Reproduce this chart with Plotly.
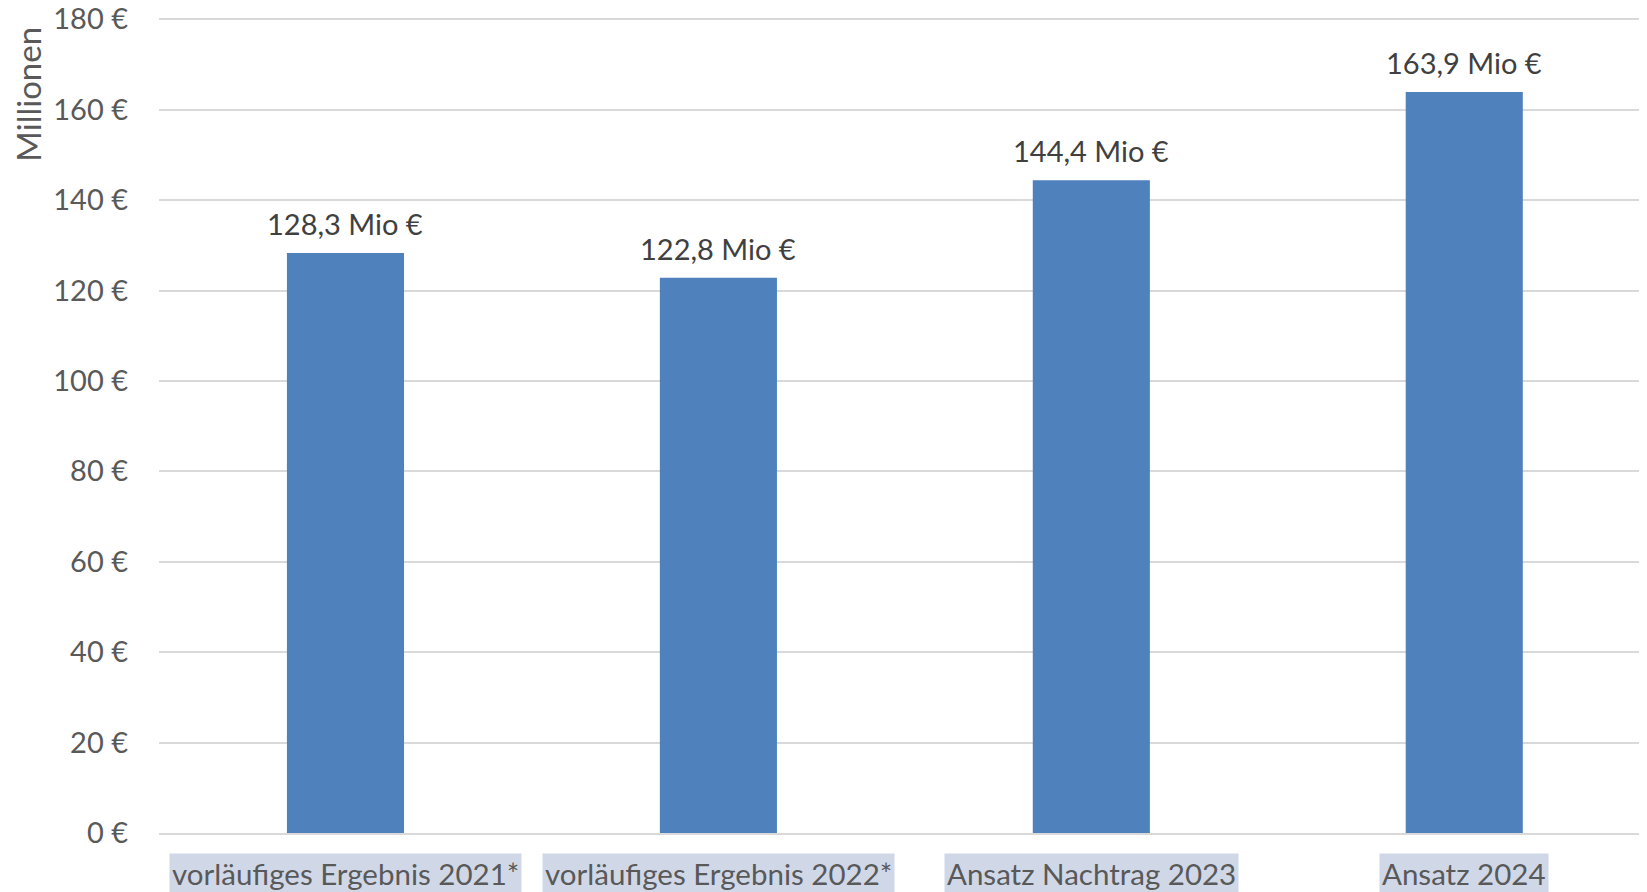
import plotly.graph_objects as go

categories = ["vorläufiges Ergebnis 2021*", "vorläufiges Ergebnis 2022*", "Ansatz Nachtrag 2023", "Ansatz 2024"]
values = [128.3, 122.8, 144.4, 163.9]
y_ticks = [0, 20, 40, 60, 80, 100, 120, 140, 160, 180]
y_tick_text = [f"{v} €" for v in y_ticks]
y_title = "Millionen"

FONT = "Lato"
FS = 29
fig = go.Figure()
fig.add_trace(go.Bar(
    x=categories, y=values,
    marker=dict(color="#4F81BD", line=dict(width=0)),
    cliponaxis=False,
))

for c, v in zip(categories, values):
    label = f"{v:.1f}".replace(".", ",") + " Mio €"
    fig.add_annotation(x=c, xref="x", y=v, yref="y", yanchor="bottom", yshift=10,
                       text=label, showarrow=False,
                       font=dict(family=FONT, size=FS, color="#404040"))

for c in categories:
    fig.add_annotation(x=c, xref="x", y=-0.0245, yref="paper", yanchor="top",
                       text=c, showarrow=False, bgcolor="#D0D8E8", borderpad=2,
                       font=dict(family=FONT, size=FS + 0.5, color="#595959"))

fig.add_annotation(x=0, xref="paper", xanchor="center", xshift=-131, y=0.99, yref="paper",
                   yanchor="top", text=y_title, textangle=-90, showarrow=False,
                   font=dict(family=FONT, size=33, color="#595959"))

fig.update_layout(
    width=1639, height=884,
    margin=dict(l=151, r=0, t=9, b=59, autoexpand=False),
    plot_bgcolor="white", paper_bgcolor="white",
    separators=",.",
    bargap=0.686,
    showlegend=False,
    font=dict(family=FONT, size=FS, color="#595959"),
    xaxis=dict(showticklabels=False, showline=True, linecolor="#D9D9D9", linewidth=2,
               ticks="", showgrid=False, automargin=False, range=[-0.5, 3.49]),
    yaxis=dict(range=[0, 180.5], tickmode="array", tickvals=y_ticks, ticktext=y_tick_text,
               showgrid=True, gridcolor="#D9D9D9", gridwidth=2, zeroline=False, showline=False,
               ticklabelstandoff=30, ticklabeloverflow="allow", automargin=False,
               tickfont=dict(family=FONT, size=FS, color="#595959")),
)
fig.write_html("out.html")
